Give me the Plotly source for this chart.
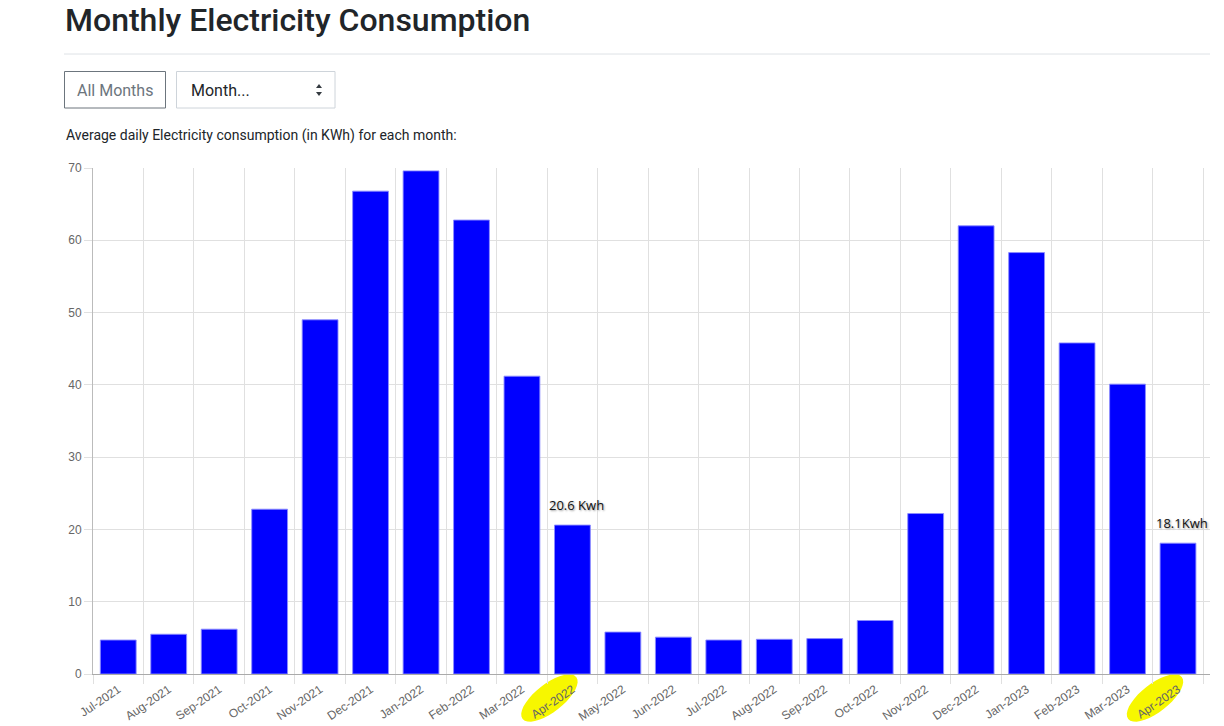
import math
import plotly.graph_objects as go

# ---- data ----
months = [
    "Jul-2021", "Aug-2021", "Sep-2021", "Oct-2021", "Nov-2021", "Dec-2021",
    "Jan-2022", "Feb-2022", "Mar-2022", "Apr-2022", "May-2022", "Jun-2022",
    "Jul-2022", "Aug-2022", "Sep-2022", "Oct-2022", "Nov-2022", "Dec-2022",
    "Jan-2023", "Feb-2023", "Mar-2023", "Apr-2023",
]
kwh = [
    4.7, 5.5, 6.2, 22.8, 49.0, 66.8,
    69.6, 62.8, 41.2, 20.6, 5.8, 5.1,
    4.7, 4.8, 4.9, 7.4, 22.2, 62.0,
    58.3, 45.8, 40.1, 18.1,
]
highlighted = ["Apr-2022", "Apr-2023"]
labels = {"Apr-2022": "20.6 Kwh", "Apr-2023": "18.1Kwh"}

# ---- page geometry (pixels) ----
W, H = 1224, 726
L, R, T, B = 93, 14, 168, 52
pw, ph = W - L - R, H - T - B


def px(x):
    return (x - L) / pw


def py(y):
    return (H - B - y) / ph


fig = go.Figure()
fig.add_trace(
    go.Bar(
        x=months,
        y=kwh,
        marker=dict(color="#0000ff", line=dict(color="rgba(140,140,255,0.9)", width=1)),
        hoverinfo="x+y",
    )
)

shapes = []
annotations = []

# header rule
shapes.append(dict(type="line", xref="paper", yref="paper",
                   x0=px(64), x1=px(1210), y0=py(54), y1=py(54),
                   line=dict(color="#dee2e6", width=1)))

# "All Months" button
shapes.append(dict(type="rect", xref="paper", yref="paper",
                   x0=px(64.5), x1=px(165.5), y0=py(71.5), y1=py(108),
                   line=dict(color="#6c757d", width=1), fillcolor="white"))
annotations.append(dict(text="All Months", xref="paper", yref="paper",
                        x=px(115), y=py(90), showarrow=False,
                        xanchor="center", yanchor="middle",
                        font=dict(family="Roboto", size=16, color="#6c757d")))

# select box
shapes.append(dict(type="rect", xref="paper", yref="paper",
                   x0=px(176.5), x1=px(335), y0=py(71.5), y1=py(108),
                   line=dict(color="#ced4da", width=1), fillcolor="white"))
annotations.append(dict(text="Month...", xref="paper", yref="paper",
                        x=px(189), y=py(90), showarrow=False,
                        xanchor="left", yanchor="middle",
                        font=dict(family="Roboto", size=16, color="#212529")))
for a, b, c in [((316, 88), (322, 88), (319, 84)), ((316, 92), (322, 92), (319, 96))]:
    path = "M {},{} L {},{} L {},{} Z".format(px(a[0]), py(a[1]), px(b[0]), py(b[1]), px(c[0]), py(c[1]))
    shapes.append(dict(type="path", xref="paper", yref="paper", path=path,
                       fillcolor="#343a40", line=dict(width=0)))

# title and caption
annotations.append(dict(text="Monthly Electricity Consumption", xref="paper", yref="paper",
                        x=px(63), y=py(20), showarrow=False,
                        xanchor="left", yanchor="middle",
                        font=dict(family="Roboto", size=32, color="#212529", weight=500)))
annotations.append(dict(text="Average daily Electricity consumption (in KWh) for each month:",
                        xref="paper", yref="paper", x=px(64), y=py(136), showarrow=False,
                        xanchor="left", yanchor="middle",
                        font=dict(family="Roboto", size=14, color="#212529")))

# yellow highlighter marks behind selected tick labels
theta = math.radians(38)
pts = []
for k in range(36):
    t = 2 * math.pi * k / 36
    ex = -23 + 33 * math.cos(t) * math.cos(theta) - 13 * math.sin(t) * math.sin(theta)
    ey = -24 + 33 * math.cos(t) * math.sin(theta) + 13 * math.sin(t) * math.cos(theta)
    pts.append("{:.1f},{:.1f}".format(ex, ey))
blob = "M " + " L ".join(pts) + " Z"
for m in highlighted:
    shapes.append(dict(type="path", xref="x", yref="paper", xsizemode="pixel", ysizemode="pixel",
                       xanchor=months.index(m), yanchor=0, path=blob,
                       fillcolor="#f7f700", line=dict(color="#f7f700", width=2), layer="below"))
    annotations.append(dict(text=labels[m], x=m, y=kwh[months.index(m)], xref="x", yref="y",
                            showarrow=False, yanchor="bottom", yshift=9, xshift=4,
                            font=dict(family="Open Sans", size=13, color="#111",
                                      shadow="1px 1px 2px #999")))

fig.update_layout(
    width=W,
    height=H,
    margin=dict(l=L, r=R, t=T, b=B, autoexpand=False),
    paper_bgcolor="white",
    plot_bgcolor="white",
    showlegend=False,
    bargap=0.29,
    shapes=shapes,
    annotations=annotations,
    font=dict(family="Liberation Sans, Arial", size=12, color="#666"),
)
fig.update_xaxes(
    type="category",
    automargin=False,
    tickson="boundaries",
    ticks="outside",
    ticklen=9,
    tickcolor="#e0e0e0",
    tickangle=-34,
    ticklabelstandoff=3,
    showgrid=True,
    gridcolor="#e0e0e0",
    showline=True,
    linecolor="#aaaaaa",
    tickfont=dict(size=12, color="#666"),
)
fig.update_yaxes(
    range=[0, 70],
    automargin=False,
    dtick=10,
    ticks="outside",
    ticklen=8,
    tickcolor="#e0e0e0",
    showgrid=True,
    gridcolor="#e0e0e0",
    showline=True,
    linecolor="#bbbbbb",
    zeroline=False,
    tickfont=dict(size=12, color="#666"),
)

# the page body margin would shift the figure by 8px
fig.write_html("out.html", config={"displayModeBar": False},
               post_script="document.body.style.margin = '0px';")
